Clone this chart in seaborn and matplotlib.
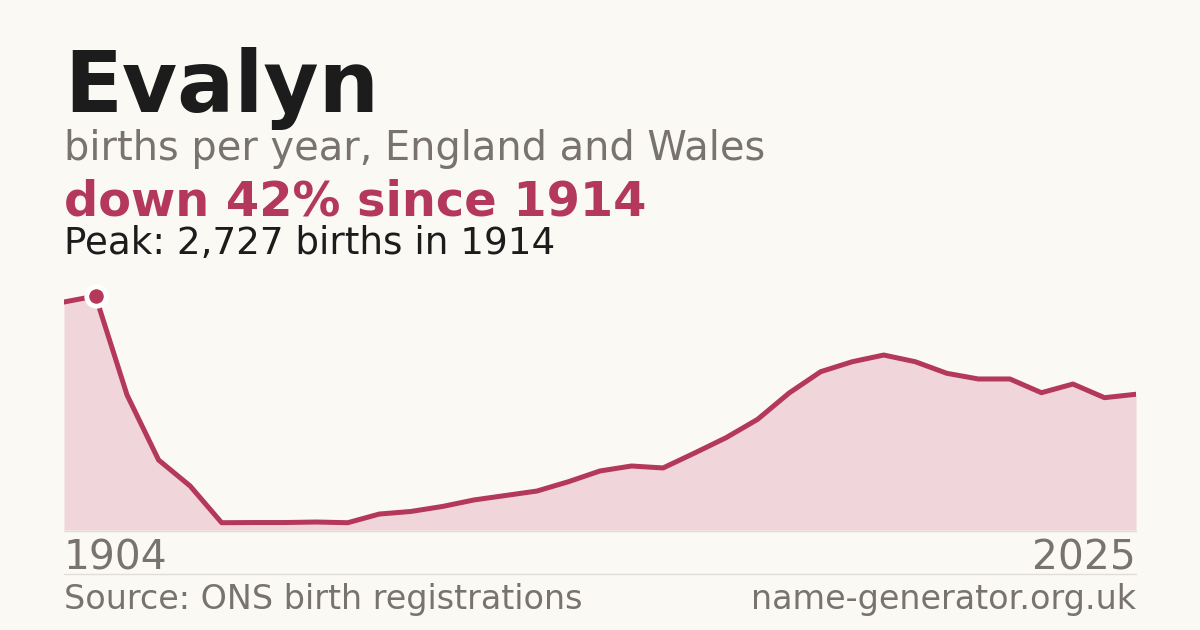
import matplotlib
matplotlib.use("Agg")
import matplotlib.pyplot as plt
import seaborn as sns
import pandas as pd
import numpy as np

# ---- data ----
years = [1904, 1914, 1924, 1934, 1944, 1954, 1964, 1974, 1984, 1994,
         2001, 2002, 2003, 2004, 2005, 2006, 2007, 2008, 2009, 2010,
         2011, 2012, 2013, 2014, 2015, 2016, 2017, 2018, 2019, 2020,
         2021, 2022, 2023, 2024, 2025]
births = [2657, 2727, 1573, 816, 513, 85, 87, 87, 93, 85,
          186, 216, 274, 350, 402, 454, 563, 688, 746, 723,
          897, 1076, 1290, 1597, 1845, 1961, 2039, 1961, 1826, 1760,
          1760, 1600, 1701, 1542, 1582]
name = "Evalyn"
subtitle = "births per year, England and Wales"
headline = "down 42% since 1914"
peak_text = "Peak: 2,727 births in 1914"
source_text = "Source: ONS birth registrations"
site_text = "name-generator.org.uk"

BG = "#faf9f4"
RED = "#b3385a"
FILL = "#f0d5da"
GREY = "#78736c"
DARK = "#1c1c1c"
RULE = "#e0ddd5"

sns.set_theme(style="white")
plt.rcParams["font.family"] = ["DejaVu Sans"]

df = pd.DataFrame({"idx": range(len(years)), "year": years, "births": births})
peak_i = int(np.argmax(births))

W, H = 1200, 630
fig = plt.figure(figsize=(12, 6.3), dpi=100, facecolor=BG)
ax_top, ax_bot = 280, 530
ax = fig.add_axes([64 / W, 1 - ax_bot / H, (1136 - 64) / W, (ax_bot - ax_top) / H])
ax.set_facecolor(BG)

ax.fill_between(df["idx"], 0, df["births"], color=FILL, linewidth=0, zorder=1)
sns.lineplot(data=df, x="idx", y="births", ax=ax, color=RED, linewidth=3.6,
             zorder=3, legend=False)
ax.plot([df["idx"][peak_i]], [df["births"][peak_i]], marker="o", markersize=14,
        markerfacecolor=RED, markeredgecolor="white", markeredgewidth=3.5,
        zorder=5, clip_on=False)

ymax = max(births) * (ax_bot - ax_top) / (ax_bot - 296)
ax.set_ylim(0, ymax)
ax.set_xlim(0, len(years) - 1)
ax.set_xticks([])
ax.set_yticks([])
ax.set_xlabel("")
ax.set_ylabel("")
for s in ax.spines.values():
    s.set_visible(False)

# baseline and separator rules
fig.add_artist(plt.Line2D([64 / W, 1136 / W], [1 - 530.5 / H] * 2, color=RULE, lw=1))
fig.add_artist(plt.Line2D([64 / W, 1136 / W], [1 - 574 / H] * 2, color=RULE, lw=1))

def ftext(x, y, s, **kw):
    fig.text(x / W, 1 - y / H, s, va="baseline", **kw)

ftext(64, 112, name, fontsize=61, fontweight="bold", color=DARK)
ftext(64, 160, subtitle, fontsize=28.7, color=GREY)
ftext(64, 215, headline, fontsize=34.5, fontweight="bold", color=RED)
ftext(64, 254, peak_text, fontsize=26.8, color=DARK)
ftext(64, 570, str(years[0]), fontsize=29.3, color=GREY)
ftext(1136, 570, str(years[-1]), fontsize=29.3, color=GREY, ha="right")
ftext(64, 609, source_text, fontsize=24, color=GREY)
ftext(1136, 609, site_text, fontsize=24, color=GREY, ha="right")

fig.savefig("out.png", dpi=100, facecolor=BG)
